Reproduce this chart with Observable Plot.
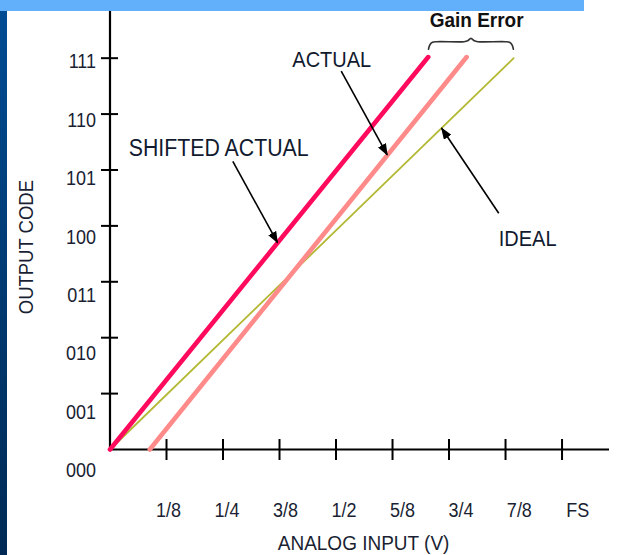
<!DOCTYPE html>
<html>
<head>
<meta charset="utf-8">
<script src="https://cdn.jsdelivr.net/npm/d3@7"></script>
<script src="https://cdn.jsdelivr.net/npm/@observablehq/plot@0.6"></script>
<style>
  html, body { margin: 0; padding: 0; background: #fff; }
  #wrap { position: relative; width: 635px; height: 555px; overflow: hidden; background: #fff; }
  #topbar { position: absolute; left: 0; top: 0; width: 584px; height: 11px; background: #62b0fc; z-index: 2; }
  #leftbar { position: absolute; left: 0; top: 11px; width: 7px; height: 544px; z-index: 2;
    background: linear-gradient(#004c94, #003a72 50%, #002a55); }
  #chart { position: absolute; left: 0; top: 0; }
</style>
</head>
<body>
<div id="wrap">
  <div id="chart"></div>
  <div id="topbar"></div>
  <div id="leftbar"></div>
</div>
<script>
// ---------------- data ----------------
const xTickValues = [1/8, 2/8, 3/8, 4/8, 5/8, 6/8, 7/8, 1];
const xTickLabels = ["1/8", "1/4", "3/8", "1/2", "5/8", "3/4", "7/8", "FS"];
const codeValues = [0, 1, 2, 3, 4, 5, 6, 7];
const codeLabels = ["000", "001", "010", "011", "100", "101", "110", "111"];

// transfer lines: x in fraction of full scale, y in output code
const idealLine   = [{x: 0,     y: 0}, {x: 0.893, y: 7.0}];
const actualLine  = [{x: 0.088, y: 0}, {x: 0.789, y: 7.02}];
const shiftedLine = [{x: 0,     y: 0}, {x: 0.704, y: 7.02}];

// annotations
const labels = [
  {text: "SHIFTED ACTUAL", x: 0.0416, y: 5.38},
  {text: "ACTUAL",         x: 0.4033, y: 6.96},
  {text: "IDEAL",          x: 0.860,  y: 3.76}
];
const arrows = [
  {x1: 0.2717, y1: 5.152, x2: 0.3706, y2: 3.70},
  {x1: 0.5115, y1: 6.767, x2: 0.6133, y2: 5.27},
  {x1: 0.860,  y1: 4.227, x2: 0.7334, y2: 5.75}
];
const gainErrorLabel = "Gain Error";
const xTitle = "ANALOG INPUT (V)";
const yTitle = "OUTPUT CODE";

// ---------------- layout ----------------
const xMax = 1.105, yMax = 7.835;
const topCode = idealLine[1].y;
// curly brace spanning from shifted-actual end to ideal end
const bx0 = shiftedLine[1].x, bx1 = idealLine[1].x, bw = bx1 - bx0;
const braceShape = [[0.003,0.16],[0.02,0.24],[0.05,0.285],[0.1,0.295],[0.42,0.295],[0.46,0.31],[0.5,0.355],
                    [0.54,0.31],[0.58,0.295],[0.9,0.295],[0.95,0.285],[0.98,0.24],[0.997,0.16]];
const brace = braceShape.map(([f, h]) => ({x: bx0 + f * bw, y: topCode + h}));

const font = "'Liberation Sans', Arial, Helvetica, sans-serif";
const ink = "#1a1f33";

const plot = Plot.plot({
  width: 635,
  height: 555,
  marginLeft: 109.5,
  marginRight: 26,
  marginTop: 11,
  marginBottom: 106,
  x: {domain: [0, xMax], axis: null},
  y: {domain: [0, yMax], axis: null},
  style: {fontFamily: font, background: "transparent", overflow: "visible"},
  marks: [
    // axes
    Plot.ruleX([0], {y1: 0, y2: yMax, stroke: "#000", strokeWidth: 2.2}),
    Plot.ruleY([0], {x1: 0, x2: xMax, stroke: "#000", strokeWidth: 2.2}),
    Plot.ruleY(codeValues.slice(1), {y: d => d, x1: 0, x2: 0, insetLeft: -8.5, insetRight: -8.5, stroke: "#000", strokeWidth: 2}),
    Plot.ruleX(xTickValues, {x: d => d, y1: 0, y2: 0, insetTop: -10, insetBottom: -11, stroke: "#000", strokeWidth: 2}),
    Plot.text(codeLabels, {x: 0, y: (d, i) => codeValues[i] * 1.0436 - 0.376, text: d => d,
      textAnchor: "end", dx: -14, fontSize: 18, fill: ink}),
    Plot.text(xTickLabels, {x: (d, i) => xTickValues[i] * 1.035, y: 0, text: d => d,
      dy: 61, fontSize: 18, fill: ink}),
    Plot.text([xTitle], {x: 0.561, y: 0, text: d => d, dy: 94, fontSize: 19, fill: ink}),
    Plot.text([yTitle], {x: 0, y: 3.62, text: d => d, dx: -84, rotate: -90, fontSize: 18.5, fill: ink}),
    // transfer lines
    Plot.line(idealLine,   {x: "x", y: "y", stroke: "#b3b934", strokeWidth: 1.8}),
    Plot.line(actualLine,  {x: "x", y: "y", stroke: "#ff8a8a", strokeWidth: 4.6}),
    Plot.line(shiftedLine, {x: "x", y: "y", stroke: "#ff0a5c", strokeWidth: 4.6}),
    // annotations
    Plot.link(arrows, {x1: "x1", y1: "y1", x2: "x2", y2: "y2", stroke: "#000", strokeWidth: 1.6}),
    Plot.text(labels, {x: "x", y: "y", text: "text", textAnchor: "start",
      fontSize: d => d.text.length > 10 ? 21.3 : 20, fill: "#111a2e"}),
    Plot.line(brace, {x: "x", y: "y", curve: "catmull-rom", stroke: "#333", strokeWidth: 1.6}),
    Plot.text([gainErrorLabel], {x: (bx0 + bx1) / 2 + 0.0125, y: 7.68, text: d => d, fontSize: 19, fontWeight: "bold", fill: "#111"})
  ]
});

// slightly taller glyphs, as in the reference lettering
plot.querySelectorAll("text").forEach(t => {
  const tr = t.getAttribute("transform");
  if (tr) t.setAttribute("transform", tr + " scale(1,1.1)");
});

// filled arrowheads on the annotation links
const ns = "http://www.w3.org/2000/svg";
const defs = document.createElementNS(ns, "defs");
const marker = document.createElementNS(ns, "marker");
marker.setAttribute("id", "headFill");
marker.setAttribute("markerUnits", "userSpaceOnUse");
marker.setAttribute("markerWidth", "12");
marker.setAttribute("markerHeight", "9");
marker.setAttribute("viewBox", "0 0 12 9");
marker.setAttribute("refX", "11");
marker.setAttribute("refY", "4.5");
marker.setAttribute("orient", "auto");
const mp = document.createElementNS(ns, "path");
mp.setAttribute("d", "M0,0L12,4.5L0,9Z");
mp.setAttribute("fill", "#000");
marker.appendChild(mp);
defs.appendChild(marker);
plot.insertBefore(defs, plot.firstChild);
plot.querySelectorAll('g[aria-label="link"] path').forEach(p => p.setAttribute("marker-end", "url(#headFill)"));

document.getElementById("chart").appendChild(plot);
</script>
</body>
</html>
